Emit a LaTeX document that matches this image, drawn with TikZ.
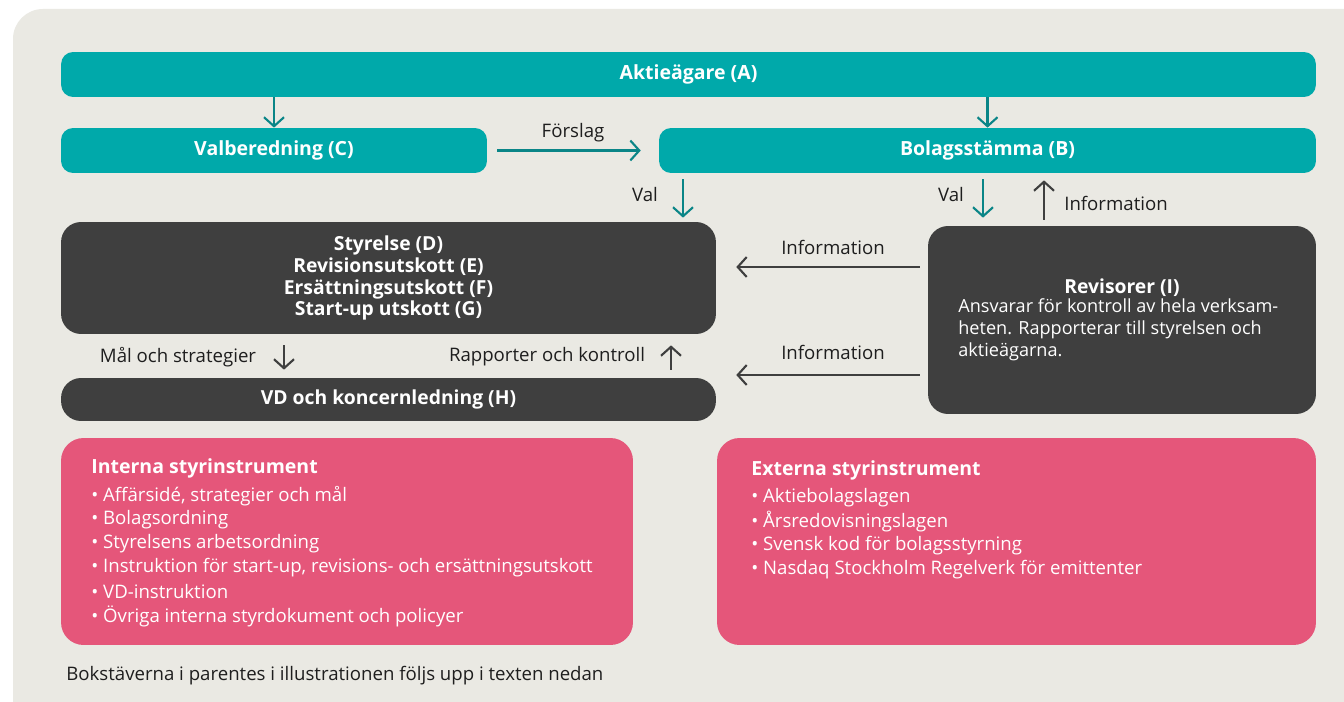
\documentclass[tikz,border=0pt]{standalone}
\usepackage{fontspec}
\setmainfont{Open Sans}
\usetikzlibrary{arrows.meta}

\definecolor{bggray}{HTML}{EAE9E3}
\definecolor{boxteal}{HTML}{00A9AA}
\definecolor{arrowteal}{HTML}{0A8587}
\definecolor{boxdark}{HTML}{3F3F3F}
\definecolor{boxpink}{HTML}{E5567A}
\definecolor{textdark}{HTML}{1E1E1E}

\tikzstyle{tealbox}=[fill=boxteal, rounded corners=0.24cm, inner sep=0pt, text=white, font=\bfseries\fontsize{11.1}{12.5}\selectfont, minimum height=0.9cm]
\tikzstyle{darkbox}=[fill=boxdark, rounded corners=0.4cm, inner sep=0pt, text=white, font=\bfseries\fontsize{11}{12.5}\selectfont, align=center]
\tikzstyle{pinkbox}=[fill=boxpink, rounded corners=0.45cm, inner sep=0pt]
\tikzstyle{lbl}=[text=textdark, font=\fontsize{10.6}{12}\selectfont, inner sep=0pt]
\tikzstyle{wlbl}=[text=white, font=\fontsize{10.6}{12.5}\selectfont, inner sep=0pt, anchor=west]
\tikzstyle{tealarrow}=[draw=arrowteal, line width=1.2pt, -{Straight Barb[length=1.8mm,width=4mm]}]
\tikzstyle{darkarrow}=[draw=boxdark, line width=1.2pt, -{Straight Barb[length=1.8mm,width=4mm]}]

\begin{document}
\begin{tikzpicture}[x=0.02cm,y=-0.02cm]

\clip (0,0) rectangle (1344,702);
\fill[white] (0,0) rectangle (1344,702);
\fill[bggray, rounded corners=0.6cm] (13,9) rectangle (1400,760);

% top row
\node[tealbox, minimum width=25.1cm] (aktie) at (688.5,74.5) {Aktieägare (A)};
\node[tealbox, minimum width=8.52cm] (valb) at (274,150.5) {Valberedning (C)};
\node[tealbox, minimum width=13.14cm] (bolag) at (987.5,150.5) {Bolagsstämma (B)};

% dark boxes
\node[darkbox, minimum width=13.1cm, minimum height=2.24cm] (styr) at (388.5,278)
  {Styrelse (D)\\Revisionsutskott (E)\\Ersättningsutskott (F)\\Start-up utskott (G)};
\node[darkbox, minimum width=13.1cm, minimum height=0.86cm] (vd) at (388.5,399.5) {VD och koncernledning (H)};
\node[darkbox, minimum width=7.76cm, minimum height=3.76cm] (revisor) at (1122,320) {};
\node[darkbox] (revtitle) at (1122,288) {Revisorer (I)};
\node[wlbl, anchor=north west, font=\fontsize{10.3}{12.5}\selectfont] (revtext) at (958,297) {\begin{tabular}{@{}l@{}}Ansvarar för kontroll av hela verksam-\\heten. Rapporterar till styrelsen och\\aktieägarna.\end{tabular}};

% instruments
\node[pinkbox, minimum width=11.44cm, minimum height=4.14cm] (interna) at (347,541.5) {};
\node[pinkbox, minimum width=11.98cm, minimum height=4.14cm] (externa) at (1016.5,541.5) {};

\node[wlbl, font=\bfseries\fontsize{11.1}{12.5}\selectfont] (intitle) at (91,468) {Interna styrinstrument};
\foreach \t [count=\i] in {{Affärsidé, strategier och mål}, Bolagsordning, Styrelsens arbetsordning,
  {Instruktion för start-up, revisions- och ersättningsutskott}, VD-instruktion,
  Övriga interna styrdokument och policyer}{
  \node[wlbl] (int\i) at (91,472 + \i * 24) {• \t};
}
\node[wlbl, font=\bfseries\fontsize{11.1}{12.5}\selectfont] (extitle) at (751,470) {Externa styrinstrument};
\foreach \t [count=\i] in {Aktiebolagslagen, Årsredovisningslagen, Svensk kod för bolagsstyrning,
  Nasdaq Stockholm Regelverk för emittenter}{
  \node[wlbl] (ext\i) at (751,474 + \i * 24) {• \t};
}

\node[lbl, anchor=west] (footer) at (66,676) {Bokstäverna i parentes i illustrationen följs upp i texten nedan};

% arrows
\coordinate (valL) at (683,0);
\coordinate (valR) at (983,0);
\coordinate (infoUp) at (1044,0);
\coordinate (infoA) at (0,267);
\coordinate (infoB) at (0,375);
\coordinate (malX) at (284,0);
\coordinate (rappX) at (671,0);

\draw[tealarrow] (aktie.south -| valb.north) -- (valb.north);
\draw[tealarrow] (aktie.south -| bolag.north) -- (bolag.north);
\draw[tealarrow, shorten <=0.2cm, shorten >=0.36cm] (valb.east) -- (bolag.west);
\node[lbl] (forslag) at (573,133) {Förslag};

\draw[tealarrow, shorten <=0.12cm, shorten >=0.08cm] (bolag.south -| valL) -- (styr.north -| valL);
\node[lbl] (valLtxt) at (645,195) {Val};
\draw[tealarrow, shorten <=0.12cm, shorten >=0.16cm] (bolag.south -| valR) -- (revisor.north -| valR);
\node[lbl] (valRtxt) at (951,195) {Val};
\draw[darkarrow, shorten <=0.12cm, shorten >=0.14cm] (revisor.north -| infoUp) -- (bolag.south -| infoUp);
\node[lbl] (infoUptxt) at (1116,203) {Information};

\draw[darkarrow, shorten <=0.16cm, shorten >=0.4cm] (revisor.west |- infoA) -- (styr.east |- infoA);
\node[lbl] (infoAtxt) at (833,247) {Information};
\draw[darkarrow, shorten <=0.16cm, shorten >=0.4cm] (revisor.west |- infoB) -- (vd.east |- infoB);
\node[lbl] (infoBtxt) at (833,352) {Information};

\draw[darkarrow, shorten <=0.22cm, shorten >=0.16cm] (styr.south -| malX) -- (vd.north -| malX);
\node[lbl] (maltxt) at (178,357) {Mål och strategier};
\draw[darkarrow, shorten <=0.16cm, shorten >=0.22cm] (vd.north -| rappX) -- (styr.south -| rappX);
\node[lbl] (rapptxt) at (547,357) {Rapporter och kontroll};

\end{tikzpicture}
\end{document}
